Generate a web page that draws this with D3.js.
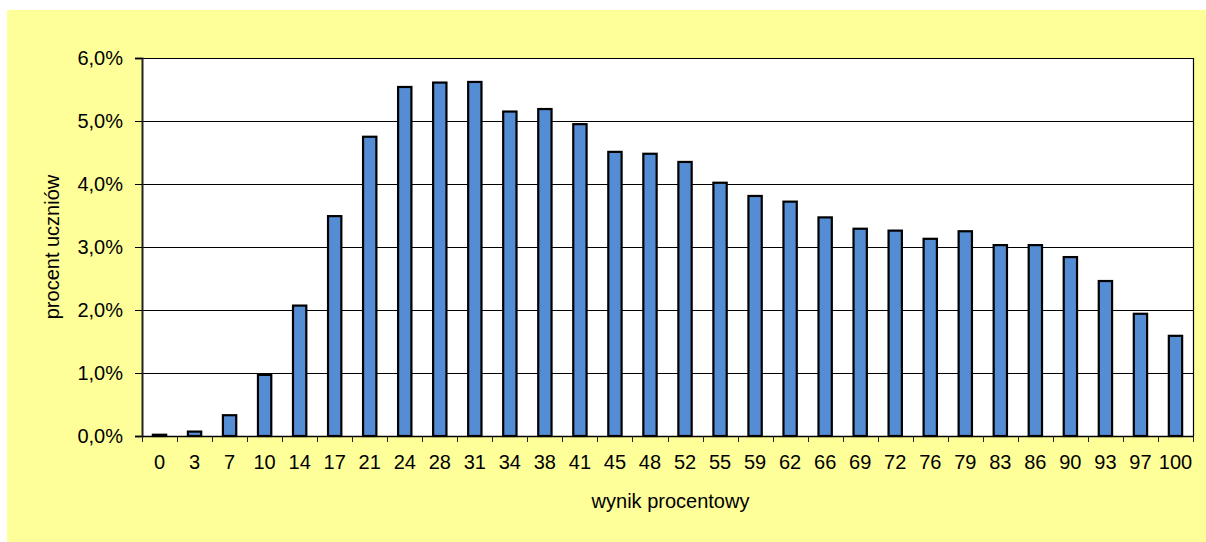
<!DOCTYPE html>
<html>
<head>
<meta charset="utf-8">
<script src="https://cdn.jsdelivr.net/npm/d3@7"></script>
<style>
  html, body { margin: 0; padding: 0; background: #ffffff; }
  svg { display: block; }
  text { font-family: "Liberation Sans", Arial, sans-serif; fill: #000; }
</style>
</head>
<body>
<svg id="chart" width="1206" height="542"></svg>
<script>
// ---- data ----
const categories = ["0","3","7","10","14","17","21","24","28","31","34","38","41","45","48","52","55","59","62","66","69","72","76","79","83","86","90","93","97","100"];
const values = [0.02,0.07,0.33,0.97,2.07,3.49,4.75,5.54,5.61,5.62,5.15,5.19,4.95,4.51,4.48,4.35,4.02,3.81,3.72,3.47,3.29,3.26,3.13,3.25,3.03,3.03,2.84,2.46,1.94,1.59];
const yTicks = [0,1,2,3,4,5,6];
const yTitle = "procent uczniów";
const xTitle = "wynik procentowy";

// ---- layout ----
const W = 1206, H = 542;
const plot = { left: 142, right: 1193, top: 58, bottom: 436 };
const FS = "20px";

const svg = d3.select("#chart");

// yellow chart area
svg.append("rect").attr("x", 7).attr("y", 10).attr("width", W - 7).attr("height", H - 10)
  .attr("fill", "#FFFF99");

// plot area
svg.append("rect").attr("x", plot.left).attr("y", plot.top)
  .attr("width", plot.right - plot.left).attr("height", plot.bottom - plot.top)
  .attr("fill", "#ffffff");

const x = d3.scaleBand().domain(categories).range([plot.left, plot.right]).padding(0);
const y = d3.scaleLinear().domain([0, 6]).range([plot.bottom, plot.top]);

// gridlines
svg.append("g").selectAll("line").data(yTicks.filter(d => d > 0)).join("line")
  .attr("x1", plot.left).attr("x2", plot.right)
  .attr("y1", d => y(d) + 0.5).attr("y2", d => y(d) + 0.5)
  .attr("stroke", "#000").attr("stroke-width", 1);

// right border
svg.append("line").attr("x1", plot.right + 0.5).attr("x2", plot.right + 0.5)
  .attr("y1", plot.top).attr("y2", plot.bottom).attr("stroke", "#000").attr("stroke-width", 1.2);

// bars
const bw = x.bandwidth() * 0.38;
svg.append("g").selectAll("rect").data(values).join("rect")
  .attr("x", (d, i) => x(categories[i]) + x.bandwidth() / 2 - bw / 2)
  .attr("y", d => y(d))
  .attr("width", bw)
  .attr("height", d => Math.max(0, y(0) - y(d)))
  .attr("fill", "#548DD4")
  .attr("stroke", "#000")
  .attr("stroke-width", 2.2);

// y axis
const yAxis = d3.axisLeft(y).tickValues(yTicks).tickSize(7).tickPadding(12)
  .tickFormat(d => d3.format(".1f")(d).replace(".", ",") + "%");
const gy = svg.append("g").attr("transform", `translate(${plot.left},0)`).call(yAxis);
gy.select(".domain").attr("stroke", "#222").attr("stroke-width", 2);
gy.selectAll(".tick line").attr("stroke", "#000");
gy.selectAll(".tick text").style("font-size", FS).attr("fill", "#000")
  .style("font-family", "'Liberation Sans', Arial, sans-serif");

// x axis
const gx = svg.append("g").attr("transform", `translate(0,${plot.bottom})`);
gx.append("line").attr("x1", plot.left).attr("x2", plot.right + 1)
  .attr("y1", 0.5).attr("y2", 0.5).attr("stroke", "#000").attr("stroke-width", 1.5);
const bounds = categories.map(c => x(c)).concat([x(categories[categories.length - 1]) + x.bandwidth()]);
gx.selectAll("line.tk").data(bounds).join("line").attr("class", "tk")
  .attr("x1", d => Math.round(d) + 0.5).attr("x2", d => Math.round(d) + 0.5)
  .attr("y1", 0).attr("y2", 6).attr("stroke", "#222").attr("stroke-width", 1);
gx.selectAll("text").data(categories).join("text")
  .attr("x", c => x(c) + x.bandwidth() / 2)
  .attr("y", 33)
  .attr("text-anchor", "middle")
  .style("font-size", FS)
  .text(c => c);

// axis titles
svg.append("text")
  .attr("transform", `translate(59,${(plot.top + plot.bottom) / 2}) rotate(-90)`)
  .attr("text-anchor", "middle")
  .style("font-size", FS)
  .text(yTitle);

svg.append("text")
  .attr("x", (plot.left + plot.right) / 2 + 3)
  .attr("y", 508)
  .attr("text-anchor", "middle")
  .style("font-size", FS)
  .text(xTitle);
</script>
</body>
</html>
